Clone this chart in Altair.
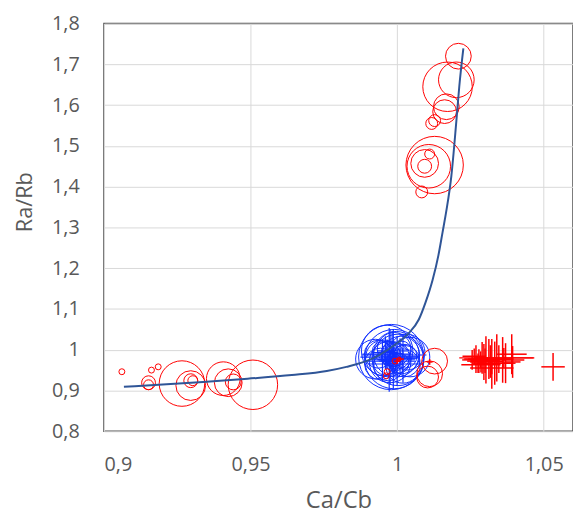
import altair as alt
import pandas as pd

# ---- blue fitted curve ----
line_x = [0.9068, 0.9186, 0.9338, 0.9490, 0.9641, 0.9760, 0.9827, 0.9905, 0.9939,
          0.9996, 1.0036, 1.0074, 1.0097, 1.0121, 1.0141, 1.0155, 1.0168, 1.0185,
          1.0202, 1.0212, 1.0226]
line_y = [0.909, 0.914, 0.921, 0.929, 0.938, 0.948, 0.958, 0.975, 0.987,
          1.014, 1.038, 1.074, 1.116, 1.171, 1.232, 1.288, 1.341, 1.426,
          1.560, 1.645, 1.739]

# ---- red bubbles ----
red_x = [1.0209, 1.0172, 1.0202, 1.0162, 1.0168, 1.0118, 1.0128,
         1.0128, 1.0108, 1.0094, 1.0111, 1.0084, 1.0094,
         0.9061, 0.9162, 0.9185, 0.9152, 0.9152, 0.9266, 0.9296, 0.9296, 0.9303,
         0.9407, 0.9424, 0.9441, 0.9508,
         1.0128, 1.0111, 1.0104, 0.9966, 0.9963, 0.9993, 1.0007]
red_y = [1.720, 1.645, 1.662, 1.584, 1.596, 1.555, 1.562,
         1.453, 1.450, 1.450, 1.480, 1.387, 1.457,
         0.946, 0.950, 0.958, 0.919, 0.914, 0.917, 0.912, 0.924, 0.924,
         0.929, 0.919, 0.921, 0.914,
         0.972, 0.941, 0.933, 0.946, 0.936, 0.972, 0.977]
red_size = [16.9, 62.5, 32.4, 14.4, 16.9, 3.6, 3.6,
            84.1, 48.4, 4.9, 2.5, 3.6, 19.6,
            0.9, 0.9, 0.9, 4.9, 2.5, 52.9, 22.5, 4.9, 2.5,
            28.9, 19.6, 6.4, 62.5,
            16.9, 16.9, 12.1, 0.9, 0.9, 0.9, 0.4]

# ---- blue bubbles ----
blue_x = [0.9980, 0.9990, 0.9966, 1.0003, 0.9997, 0.9976, 1.0013, 0.9953, 0.9990,
          1.0024, 0.9970, 1.0000, 0.9983, 1.0007, 0.9946, 1.0017, 0.9987, 0.9966,
          0.9997, 0.9980, 1.0027, 0.9960, 0.9926, 1.0044, 0.9943, 1.0034,
          0.9936, 1.0020, 0.9973, 1.0010]
blue_y = [0.982, 0.977, 0.997, 0.975, 0.989, 0.970, 0.987, 0.980, 1.001,
          0.972, 0.960, 0.984, 0.992, 0.967, 0.997, 0.999, 0.975, 0.984,
          0.963, 1.004, 0.984, 0.967, 0.977, 0.982, 0.965, 0.994,
          0.989, 0.960, 0.979, 0.981]
blue_size = [108.9, 90.0, 67.6, 67.6, 52.9, 44.1, 36.1, 32.4, 28.9,
             25.6, 22.5, 16.9, 12.1, 10.0, 8.1, 8.1, 4.9, 3.6,
             3.6, 2.5, 14.4, 14.4, 40.0, 40.0, 25.6, 32.4,
             20.0, 30.0, 6.0, 2.0]

# ---- blue error crosses ----
berr_x = [0.9976, 0.9987, 0.9966, 1.0000, 0.9983, 0.9993, 0.9973, 1.0010,
          0.9950, 1.0020, 0.9960, 0.9990]
berr_y = [0.982, 0.977, 0.989, 0.972, 0.997, 0.965, 0.975, 0.984,
          0.972, 0.979, 0.993, 0.987]
berr_ex = [0.0101, 0.0074, 0.0084, 0.0061, 0.0051, 0.0094, 0.0040, 0.0067,
           0.0060, 0.0050, 0.0045, 0.0110]
berr_ey = [0.068, 0.073, 0.036, 0.061, 0.049, 0.029, 0.078, 0.044,
           0.050, 0.060, 0.040, 0.020]

# ---- red error crosses ----
rerr_x = [1.0256, 1.0269, 1.0279, 1.0290, 1.0296, 1.0303, 1.0313, 1.0323, 1.0340,
          1.0333, 1.0347, 1.0360, 1.0364, 1.0370, 1.0391, 1.0394, 1.0286, 1.0263,
          1.0323, 1.0276, 1.0532, 1.0000, 1.0010, 1.0111, 1.0300, 1.0318, 1.0285]
rerr_y = [0.975, 0.977, 0.972, 0.980, 0.970, 0.975, 0.977, 0.965, 0.980,
          0.967, 0.977, 0.975, 0.980, 0.967, 0.989, 0.970, 0.963, 0.984,
          0.955, 0.967, 0.958, 0.972, 0.977, 0.970, 0.973, 0.971, 0.976]
rerr_ex = [0.0034, 0.0027, 0.0040, 0.0020, 0.0047, 0.0034, 0.0084, 0.0027, 0.0128,
           0.0061, 0.0040, 0.0074, 0.0101, 0.0034, 0.0051, 0.0027, 0.0067, 0.0040,
           0.0074, 0.0020, 0.0040, 0.0010, 0.0013, 0.0010, 0.0050, 0.0040, 0.0030]
rerr_ey = [0.024, 0.034, 0.029, 0.039, 0.044, 0.058, 0.049, 0.061, 0.058,
           0.053, 0.034, 0.056, 0.024, 0.049, 0.049, 0.039, 0.019, 0.019,
           0.015, 0.024, 0.034, 0.007, 0.005, 0.007, 0.030, 0.040, 0.020]

x_ticks = [0.9, 0.95, 1.0, 1.05]
y_ticks = [0.8, 0.9, 1.0, 1.1, 1.2, 1.3, 1.4, 1.5, 1.6, 1.7, 1.8]

RED = "#FF0000"
BLUE = "#1030FF"
LINE = "#2F5597"
FONT = "Open Sans"
label_expr = "replace(format(datum.value, '~g'), '.', ',')"

xs = alt.Scale(domain=[0.9, 1.06], nice=False, zero=False)
ys = alt.Scale(domain=[0.8, 1.8], nice=False, zero=False)
size_scale = alt.Scale(domain=[0, 120], range=[0, 4800], zero=True)

x_axis = alt.Axis(values=x_ticks, labelExpr=label_expr, title="Ca/Cb",
                  labelPadding=24, titleY=70, titleBaseline="middle",
                  titlePadding=0, titleFontSize=24)
y_axis = alt.Axis(values=y_ticks, labelExpr=label_expr, title="Ra/Rb",
                  labelPadding=25, titleX=-80, titleY=180, titleAngle=270,
                  titleBaseline="middle", titleAlign="center", titleFontSize=22)

line_df = pd.DataFrame({"x": line_x, "y": line_y})
red_df = pd.DataFrame({"x": red_x, "y": red_y, "s": red_size})
blue_df = pd.DataFrame({"x": blue_x, "y": blue_y, "s": blue_size})
berr_df = pd.DataFrame({"x": berr_x, "y": berr_y, "ex": berr_ex, "ey": berr_ey})
rerr_df = pd.DataFrame({"x": rerr_x, "y": rerr_y, "ex": rerr_ex, "ey": rerr_ey})


def err_layers(df, color, w):
    base = alt.Chart(df).transform_calculate(
        x0="datum.x - datum.ex", x1="datum.x + datum.ex",
        y0="datum.y - datum.ey", y1="datum.y + datum.ey")
    h = base.mark_rule(color=color, strokeWidth=w).encode(
        x=alt.X("x0:Q", scale=xs), x2="x1:Q", y=alt.Y("y:Q", scale=ys))
    v = base.mark_rule(color=color, strokeWidth=w).encode(
        x=alt.X("x:Q", scale=xs), y=alt.Y("y0:Q", scale=ys), y2="y1:Q")
    return [h, v]


blue_bub = alt.Chart(blue_df).mark_point(
    shape="circle", filled=False, color=BLUE, strokeWidth=1, opacity=1).encode(
    x=alt.X("x:Q", scale=xs, axis=x_axis),
    y=alt.Y("y:Q", scale=ys, axis=y_axis),
    size=alt.Size("s:Q", scale=size_scale, legend=None))

red_bub = alt.Chart(red_df).mark_point(
    shape="circle", filled=False, color=RED, strokeWidth=1, opacity=1).encode(
    x=alt.X("x:Q", scale=xs),
    y=alt.Y("y:Q", scale=ys),
    size=alt.Size("s:Q", scale=size_scale, legend=None))

line = alt.Chart(line_df).mark_line(
    color=LINE, strokeWidth=2, interpolate="monotone").encode(
    x=alt.X("x:Q", scale=xs), y=alt.Y("y:Q", scale=ys), order="x:Q")

layers = ([blue_bub] + err_layers(berr_df, BLUE, 1.2) + [red_bub]
          + err_layers(rerr_df, RED, 1.5) + [line])

chart = alt.layer(*layers).properties(
    width=474, height=412,
    autosize=alt.AutoSizeParams(type="none"),
    padding={"left": 97, "top": 13, "right": 0, "bottom": 92},
    background="white",
).configure_view(
    stroke="#505050", strokeWidth=1.5
).configure_axis(
    domain=False, ticks=False, tickSize=0,
    grid=True, gridColor="#D9D9D9", gridWidth=1,
    labelFont=FONT, labelFontSize=20, labelColor="#595959",
    titleFont=FONT, titleColor="#595959",
    titleFontWeight="normal"
)

chart.save("out.html", embed_options={"renderer": "svg", "actions": False})
